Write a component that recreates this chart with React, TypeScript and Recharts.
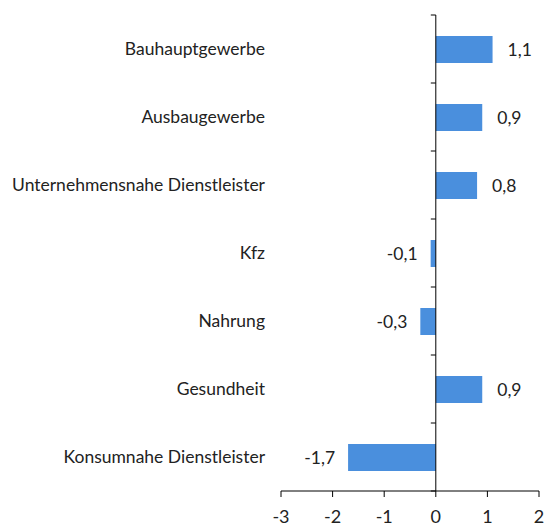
import React from 'react';
import { BarChart, Bar, XAxis, YAxis, ReferenceLine, LabelList } from 'recharts';

const categories = [
  'Bauhauptgewerbe',
  'Ausbaugewerbe',
  'Unternehmensnahe Dienstleister',
  'Kfz',
  'Nahrung',
  'Gesundheit',
  'Konsumnahe Dienstleister',
];
const values = [1.1, 0.9, 0.8, -0.1, -0.3, 0.9, -1.7];
const xTicks = [-3, -2, -1, 0, 1, 2];

const data = categories.map((name, i) => ({ name, value: values[i] }));

const FONT = 'Lato, "Open Sans", sans-serif';
const BLUE = '#4a8fdd';

// value labels: right of positive bars, left of negative ones
const ValueLabel = (props: any) => {
  const { x, y, width, height, value } = props;
  const end = value >= 0 ? Math.max(x, x + width) : Math.min(x, x + width);
  const tx = value >= 0 ? end + 15 : end - 13;
  return (
    <text
      x={tx}
      y={y + height / 2}
      dy="0.35em"
      textAnchor={value >= 0 ? 'start' : 'end'}
      fontFamily={FONT}
      fontSize={17.5}
      fill="#222"
    >
      {String(value).replace('.', ',')}
    </text>
  );
};

// zero line with tick marks between categories (like the Excel category axis)
const ZeroAxis = (props: any) => {
  const { x1, y1, y2 } = props;
  const n = categories.length;
  const step = (y2 - y1) / n;
  const ticks = [];
  for (let i = 0; i <= n; i++) {
    const ty = y1 + step * i;
    ticks.push(<line key={i} x1={x1 - 5} x2={x1} y1={ty} y2={ty} stroke="#000" strokeWidth={1} />);
  }
  return (
    <g>
      <line x1={x1} x2={x1} y1={y1} y2={y2} stroke="#000" strokeWidth={1} />
      {ticks}
    </g>
  );
};

export default function App() {
  return (
    <div style={{ position: 'absolute', left: 0, top: 0, width: 544, height: 530, background: '#fff' }}>
      <BarChart
        width={544}
        height={530}
        data={data}
        layout="vertical"
        margin={{ top: 15, right: 5, left: 0, bottom: 0 }}
        barSize={27}
      >
        <XAxis
          type="number"
          domain={[-3, 2]}
          ticks={xTicks}
          interval={0}
          height={39}
          tickSize={6}
          tickMargin={13}
          axisLine={{ stroke: '#000' }}
          tickLine={{ stroke: '#000' }}
          tick={{ fontFamily: FONT, fontSize: 18, fill: '#222' }}
          tickFormatter={(v) => String(v)}
        />
        <YAxis
          type="category"
          dataKey="name"
          width={281}
          axisLine={false}
          tickLine={false}
          tickSize={0}
          tickMargin={16}
          interval={0}
          tick={{ fontFamily: FONT, fontSize: 17.5, fill: '#222' }}
        />
        <Bar dataKey="value" fill={BLUE} isAnimationActive={false}>
          <LabelList dataKey="value" content={<ValueLabel />} />
        </Bar>
        <ReferenceLine x={0} stroke="#000" shape={(p: any) => <ZeroAxis {...p} />} />
      </BarChart>
    </div>
  );
}
